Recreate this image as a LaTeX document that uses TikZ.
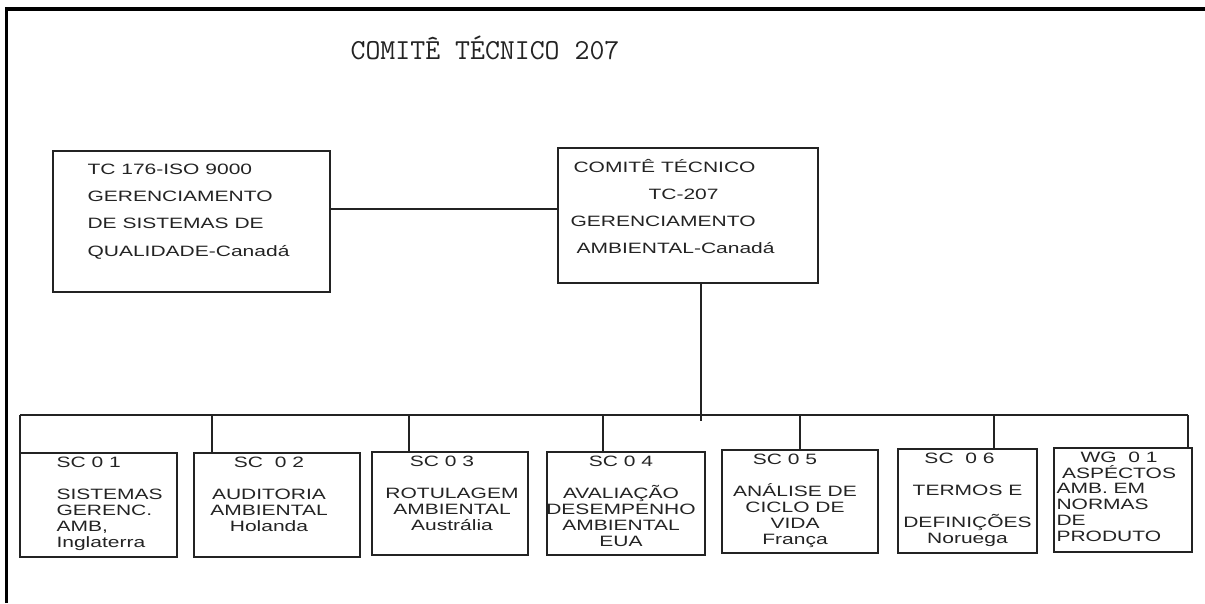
\documentclass[tikz,border=0pt]{standalone}
\usepackage{fontspec}
\setmainfont{Liberation Sans}
\newfontfamily\caixafont[FakeStretch=1.4]{Liberation Sans}
\usepackage{tikz}
\definecolor{tinta}{RGB}{35,35,35}
\definecolor{moldura}{RGB}{0,0,0}

\begin{document}
\begin{tikzpicture}[x=1pt,y=-1pt,
    caixa/.style={draw=tinta,line width=1.3pt,inner sep=0pt},
    texto/.style={inner sep=0pt,text=tinta,font=\caixafont\fontsize{15}{16}\selectfont},
    textoalto/.style={texto,font=\caixafont\fontsize{15}{27.2}\selectfont,align=left,anchor=north west},
    liga/.style={draw=tinta,line width=1.3pt}]
  \useasboundingbox (0,0) rectangle (1205,603);
  \draw[moldura,line width=3.5pt] (6.5,603) -- (6.5,9) -- (1205,9);
  \node[text=tinta,font=\ttfamily\fontsize{29}{30}\selectfont] (titulo) at (485,48) {COMITÊ TÉCNICO 207};

  \node[caixa,minimum width=277pt,minimum height=141pt] (tc176) at (191.5,221.5) {};
  \node[textoalto] (tc176t) at ([xshift=35pt,yshift=-13.5pt]tc176.north west)
    {TC 176-ISO 9000\\GERENCIAMENTO\\DE SISTEMAS DE\\QUALIDADE-Canadá};
  \node[caixa,minimum width=260pt,minimum height=135pt] (tc207) at (688,215.5) {};
  \node[textoalto] (tc207t) at ([xshift=13pt,yshift=-11.5pt]tc207.north west)
    {\hspace*{3pt}COMITÊ TÉCNICO\\\hspace*{78pt}TC-207\\GERENCIAMENTO\\\hspace*{6pt}AMBIENTAL-Canadá};
  \draw[liga] (tc176.east |- 0,209) -- (tc207.west |- 0,209);

  \node[caixa,minimum width=157pt,minimum height=104pt] (sc1) at (98.5,505) {};
  \node[caixa,minimum width=166pt,minimum height=104pt] (sc2) at (277,505) {};
  \node[caixa,minimum width=156pt,minimum height=103pt] (sc3) at (450,503.5) {};
  \node[caixa,minimum width=158pt,minimum height=103pt] (sc4) at (626,503.5) {};
  \node[caixa,minimum width=156pt,minimum height=103pt] (sc5) at (800,501.5) {};
  \node[caixa,minimum width=139pt,minimum height=104pt] (sc6) at (967.5,501) {};
  \node[caixa,minimum width=138pt,minimum height=104pt] (wg1) at (1123,500) {};

  \node[texto,align=left,anchor=north west] (sc1t) at ([xshift=37pt,yshift=-4pt]sc1.north west)
    {SC 0 1\\[16pt]SISTEMAS\\GERENC.\\AMB,\\Inglaterra};
  \node[texto,align=center,anchor=north] (sc2t) at ([xshift=-8pt,yshift=-4pt]sc2.north)
    {SC\ \ 0 2\\[16pt]AUDITORIA\\AMBIENTAL\\Holanda};
  \node[texto,align=center,anchor=north] (sc3t) at ([xshift=2pt,yshift=-4pt]sc3.north)
    {SC 0 3\hspace*{20pt}\\[16pt]ROTULAGEM\\AMBIENTAL\\Austrália};
  \node[texto,align=center,anchor=north] (sc4t) at ([xshift=-5pt,yshift=-4pt]sc4.north)
    {SC 0 4\\[16pt]AVALIAÇÃO\\DESEMPENHO\\AMBIENTAL\\EUA};
  \node[texto,align=center,anchor=north] (sc5t) at ([xshift=-5pt,yshift=-4pt]sc5.north)
    {SC 0 5\hspace*{20pt}\\[16pt]ANÁLISE DE\\CICLO DE\\VIDA\\França};
  \node[texto,align=center,anchor=north] (sc6t) at ([yshift=-4pt]sc6.north)
    {SC\ \ 0 6\hspace*{16pt}\\[16pt]TERMOS E\\[16pt]DEFINIÇÕES\\Noruega};
  \node[texto,align=center,anchor=north] (wg1t) at ([xshift=-4pt,yshift=-4pt]wg1.north)
    {WG\ \ 0 1\\ASPÉCTOS};
  \node[texto,align=left,anchor=north west] (wg1u) at ([xshift=3pt,yshift=-36pt]wg1.north west)
    {AMB. EM\\NORMAS\\DE\\PRODUTO};

  \coordinate (desce) at (701,421);
  \draw[liga] (tc207.south -| desce) -- (desce);
  \draw[liga] (20,415) -- (1188,415);
  \foreach \alvo/\x in {sc1/20,sc2/212,sc3/409,sc4/603,sc5/800,sc6/994,wg1/1188}
    \draw[liga] (\x,415) -- (\alvo.north -| \x,0);
\end{tikzpicture}
\end{document}
